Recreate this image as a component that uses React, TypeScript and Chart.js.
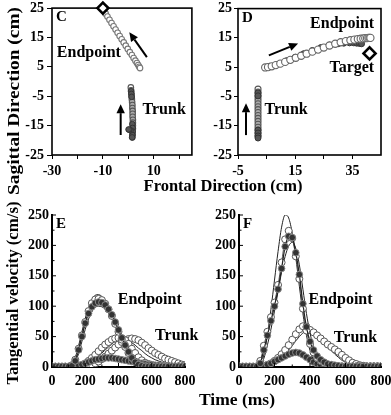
import React, { useEffect, useRef } from 'react';
import { Chart, registerables } from 'chart.js';
Chart.register(...registerables);

const FONT = 'Liberation Serif';

// ---------- Panel C (positions, cm) ----------
const cTicksX = [-30, -10, 10];
const cMinorX = [-20, 0, 20];
const posTicksY = [-25, -15, -5, 5, 15, 25];
const cTargetX = [-10];
const cTargetY = [25];
const cEndX = [-10, -9.5, -8.9, -8.2, -7.4, -6.6, -5.8, -5.0, -4.2, -3.4, -2.6, -1.8, -1.0, -0.2, 0.6, 1.4, 2.1, 2.8, 3.4, 3.9, 4.3, 4.6];
const cEndY = [25, 24.1, 23.1, 22.1, 21.0, 19.9, 18.8, 17.7, 16.6, 15.5, 14.4, 13.3, 12.2, 11.1, 10.0, 9.0, 8.0, 7.1, 6.3, 5.6, 5.0, 4.6];
const cTrunkOpenX = [1.0, 1.1, 1.2, 1.3, 1.4, 1.5, 1.6, 1.6, 1.7, 1.7, 1.7, 1.8, 1.8, 1.8, 1.8, 1.7, 1.7, 1.6];
const cTrunkOpenY = [-2, -3, -4, -5, -6, -7, -8, -9, -10, -11, -12, -13, -14, -15, -16, -17, -18, -19];
const cTrunkDarkX = [1.1, 1.2, 1.3, 1.6, 1.7, 1.7, 1.6, 1.5, 0.9, 0.4, 0.1];
const cTrunkDarkY = [-3.3, -4.2, -5.2, -14.5, -15.8, -17, -18.2, -19, -16.6, -16.4, -16.3];
const cArrows = [
  [7.3, 8.3, 0.4, 16.8],
  [-3, -18.2, -3, -7.7],
];

// ---------- Panel D (positions, cm) ----------
const dTicksX = [-5, 15, 35];
const dMinorX = [5, 25];
const dTargetX = [41];
const dTargetY = [9.7];
const dEndX = [4.5, 5.5, 6.8, 8.2, 9.8, 11.5, 13.3, 15.2, 17.1, 19.0, 21.0, 23.0, 25.0, 27.0, 29.0, 30.9, 32.7, 34.3, 35.7, 36.9, 37.9, 38.8, 39.5, 40.1, 40.6, 41.0, 41.3];
const dEndY = [4.9, 5.0, 5.3, 5.7, 6.2, 6.8, 7.5, 8.2, 8.9, 9.6, 10.3, 11.0, 11.7, 12.4, 13.0, 13.5, 13.9, 14.2, 14.4, 14.6, 14.7, 14.8, 14.9, 14.9, 15.0, 15.0, 15.0];
const dDarkX = [6, 9, 12, 15, 18, 21, 24, 27, 30, 32, 34, 35.5, 36.5, 37.5, 38.2];
const dDarkY = [5.3, 6.0, 7.2, 8.4, 9.6, 10.7, 11.7, 12.5, 13.0, 13.2, 13.3, 13.3, 13.2, 13.1, 13.0];
const dTrunkOpenX = [2.0, 2.0, 2.0, 2.0, 2.0, 2.0, 2.0, 2.0, 2.0, 2.0, 2.0, 2.0, 2.0, 2.0, 2.0, 2.0, 2.0];
const dTrunkOpenY = [-2.5, -3.5, -4.5, -5.5, -6.5, -7.5, -8.5, -9.5, -10.5, -11.5, -12.5, -13.5, -14.5, -15.5, -16.5, -17.5, -18.5];
const dTrunkDarkX = [2.0, 2.0, 2.0, 2.0, 2.0, 2.0];
const dTrunkDarkY = [-3.8, -4.8, -16.5, -17.5, -18.5, -19.2];
const dArrows = [
  [-2.2, -18.2, -2.2, -7.3],
  [5.8, 9.0, 16.0, 13.1],
];

// ---------- Panels E/F (velocity, cm/s vs time, ms) ----------
const velT = [0, 20, 40, 60, 80, 100, 120, 140, 160, 180, 200, 220, 240, 260, 280, 300, 320, 340, 360, 380, 400, 420, 440, 460, 480, 500, 520, 540, 560, 580, 600, 620, 640, 660, 680, 700, 720, 740, 760, 780, 800];
const timeTicks = [0, 200, 400, 600, 800];
const timeMinor = [100, 300, 500, 700];
const velTicks = [0, 50, 100, 150, 200, 250];
const velMinor = [25, 75, 125, 175, 225];

const eEndFilled = [1, 1, 1, 1, 1, 1, 2, 10, 28, 50, 72, 88, 99, 105, 107, 106, 102, 95, 86, 74, 61, 48, 36, 25, 15, 8, 4, 2, 1, 1, 1, 1, 1, 1, 1, 1, 1, 1, 1, 1, 1];
const eEndOpen = [0, 0, 0, 0, 0, 0, 3, 12, 30, 52, 74, 92, 105, 111, 112, 110, 104, 95, 84, 71, 58, 45, 33, 23, 15, 9, 5, 3, 2, 1, 1, 0, 0, 0, 0, 0, 0, 0, 0, 0, 0];
const eEndThinHi = [0, 0, 0, 0, 0, 1, 5, 16, 35, 58, 80, 98, 111, 118, 119, 116, 109, 99, 87, 73, 59, 46, 34, 24, 16, 10, 6, 3, 2, 1, 0, 0, 0, 0, 0, 0, 0, 0, 0, 0, 0];
const eEndThinLo = [0, 0, 0, 0, 0, 0, 2, 8, 22, 42, 62, 79, 91, 98, 100, 99, 95, 88, 79, 68, 56, 44, 33, 23, 15, 9, 5, 3, 1, 0, 0, 0, 0, 0, 0, 0, 0, 0, 0, 0, 0];
const eTrunkOpenL = [0, 0, 0, 0, 0, 0, 0, 0, 1, 3, 6, 10, 15, 20, 26, 32, 37, 41, 45, 47, 48, 47, 44, 38, 30, 23, 16, 11, 7, 5, 3, 2, 2, 1, 1, 1, 1, 1, 1, 1, 1];
const eTrunkOpenR = [0, 0, 0, 0, 0, 0, 0, 0, 0, 0, 1, 2, 4, 6, 9, 13, 17, 22, 27, 32, 37, 41, 44, 46, 47, 46, 44, 40, 36, 31, 27, 23, 20, 17, 14, 12, 10, 8, 6, 4, 3];
const eTrunkThin = [0, 0, 0, 0, 0, 0, 0, 0, 1, 2, 4, 7, 10, 14, 18, 23, 28, 33, 38, 42, 44, 45, 45, 43, 40, 36, 31, 27, 22, 18, 15, 12, 10, 8, 6, 5, 4, 3, 2, 2, 1];
const eTrunkFilled = [1, 1, 1, 1, 1, 1, 1, 2, 3, 4, 6, 8, 10, 12, 13, 14, 15, 15, 15, 14, 13, 12, 11, 10, 9, 8, 7, 6, 5, 4, 4, 3, 3, 2, 2, 2, 1, 1, 1, 1, 1];

const fEndOpen = [0, 0, 0, 0, 0, 1, 10, 35, 58, 82, 106, 135, 172, 210, 224, 212, 182, 145, 96, 60, 38, 24, 15, 10, 6, 4, 3, 2, 1, 1, 1, 1, 1, 1, 1, 1, 1, 1, 1, 1, 1];
const fEndFilled = [1, 1, 1, 1, 1, 1, 6, 28, 52, 76, 100, 128, 162, 198, 215, 213, 188, 152, 104, 66, 42, 28, 18, 12, 8, 5, 4, 3, 2, 1, 1, 1, 1, 1, 1, 1, 1, 1, 1, 1, 1];
const fEndThinHi = [0, 0, 0, 0, 0, 0, 4, 20, 52, 95, 143, 190, 230, 250, 245, 220, 180, 133, 88, 52, 27, 12, 5, 2, 1, 0, 0, 0, 0, 0, 0, 0, 0, 0, 0, 0, 0, 0, 0, 0, 0];
const fEndThinLo = [0, 0, 0, 0, 0, 0, 3, 14, 36, 62, 92, 124, 156, 182, 199, 205, 195, 168, 128, 88, 56, 33, 18, 9, 4, 2, 1, 0, 0, 0, 0, 0, 0, 0, 0, 0, 0, 0, 0, 0, 0];
const fTrunkOpen = [0, 0, 0, 0, 0, 0, 0, 1, 3, 6, 10, 15, 21, 28, 36, 45, 54, 62, 67, 66, 61, 57, 52, 47, 42, 37, 33, 29, 25, 20, 15, 11, 7, 5, 3, 2, 1, 1, 1, 1, 1];
const fTrunkThin = [0, 0, 0, 0, 0, 0, 0, 0, 1, 3, 6, 10, 15, 21, 28, 35, 43, 50, 56, 59, 60, 58, 54, 48, 41, 34, 27, 21, 16, 11, 8, 5, 3, 2, 1, 0, 0, 0, 0, 0, 0];
const fTrunkFilled = [1, 1, 1, 1, 1, 1, 1, 2, 4, 6, 9, 12, 15, 18, 21, 23, 24, 23, 20, 16, 12, 8, 5, 3, 2, 1, 1, 1, 1, 1, 1, 1, 1, 1, 1, 1, 1, 1, 1, 1, 1];

// ---------- helpers ----------
const pts = (xs: number[], ys: number[]) => xs.map((x, i) => ({ x, y: ys[i] }));
const tickFont = { family: FONT, size: 14, weight: 'bold' as const };

function makeScale(
  min: number, max: number, major: number[], minor: number[],
  fitKey: 'width' | 'height', fitSize: number, tickLen: number, pad: number, border: boolean
) {
  return {
    type: 'linear',
    min, max,
    afterBuildTicks: (s: any) => {
      s.ticks = [...major, ...minor].sort((a, b) => a - b).map((v) => ({ value: v }));
    },
    afterFit: (s: any) => {
      s[fitKey] = fitSize;
      s.paddingLeft = 0; s.paddingRight = 0; s.paddingTop = 0; s.paddingBottom = 0;
    },
    ticks: {
      font: tickFont, color: '#000', padding: pad, autoSkip: false, maxRotation: 0, minRotation: 0,
      callback: (v: any) => (major.includes(Number(v)) ? String(v) : ''),
    },
    grid: { display: true, drawOnChartArea: false, drawTicks: tickLen > 0, tickLength: tickLen, color: '#000', lineWidth: 1 },
    border: { display: border, color: '#000', width: 2 },
  };
}

type Label = { text: string; x: number; y: number };

function decorPlugin(o: {
  letter: string; labels: Label[]; arrows: number[][]; box: boolean;
  inward?: { xMajor: number[]; xMinor: number[]; yMajor: number[]; yMinor: number[] };
}) {
  return {
    id: 'decor',
    beforeDatasetsDraw(chart: any) {
      if (!o.box) return;
      const { ctx, chartArea: a } = chart;
      ctx.save();
      ctx.lineWidth = 1.6;
      ctx.strokeStyle = '#000';
      ctx.strokeRect(a.left, a.top, a.right - a.left, a.bottom - a.top);
      ctx.restore();
    },
    afterDraw(chart: any) {
      const { ctx, chartArea: a } = chart;
      const xs = chart.scales.x, ys = chart.scales.y;
      ctx.save();
      ctx.strokeStyle = '#000';
      ctx.fillStyle = '#000';
      if (o.inward) {
        ctx.lineWidth = 1;
        ctx.beginPath();
        const tick = (vals: number[], len: number, horiz: boolean) => {
          for (const v of vals) {
            if (horiz) {
              const px = xs.getPixelForValue(v);
              ctx.moveTo(px, a.bottom); ctx.lineTo(px, a.bottom - len);
            } else {
              const py = ys.getPixelForValue(v);
              ctx.moveTo(a.left, py); ctx.lineTo(a.left + len, py);
            }
          }
        };
        tick(o.inward.xMajor, 4, true);
        tick(o.inward.xMinor, 2.5, true);
        tick(o.inward.yMajor, 4, false);
        tick(o.inward.yMinor, 2.5, false);
        ctx.stroke();
      }
      for (const [x1, y1, x2, y2] of o.arrows) {
        const X1 = xs.getPixelForValue(x1), Y1 = ys.getPixelForValue(y1);
        const X2 = xs.getPixelForValue(x2), Y2 = ys.getPixelForValue(y2);
        const ang = Math.atan2(Y2 - Y1, X2 - X1);
        const head = 9, half = 4.2;
        const bx = X2 - head * Math.cos(ang), by = Y2 - head * Math.sin(ang);
        ctx.lineWidth = 2;
        ctx.beginPath(); ctx.moveTo(X1, Y1); ctx.lineTo(bx, by); ctx.stroke();
        ctx.beginPath();
        ctx.moveTo(X2, Y2);
        ctx.lineTo(bx + half * Math.sin(ang), by - half * Math.cos(ang));
        ctx.lineTo(bx - half * Math.sin(ang), by + half * Math.cos(ang));
        ctx.closePath(); ctx.fill();
      }
      ctx.font = `bold 16px "${FONT}"`;
      ctx.textAlign = 'center';
      ctx.textBaseline = 'middle';
      for (const l of o.labels) ctx.fillText(l.text, xs.getPixelForValue(l.x), ys.getPixelForValue(l.y));
      ctx.font = `bold 15px "${FONT}"`;
      ctx.textAlign = 'left';
      ctx.textBaseline = 'top';
      ctx.fillText(o.letter, a.left + 4, a.top + 2);
      ctx.restore();
    },
  };
}

const baseOpts = {
  responsive: false,
  maintainAspectRatio: false,
  animation: false,
  devicePixelRatio: 1,
  events: [] as any[],
  plugins: { legend: { display: false }, tooltip: { enabled: false } },
};

const diamond = (xs: number[], ys: number[], r: number) => ({
  data: pts(xs, ys), pointStyle: 'rectRot', pointRadius: r, pointBackgroundColor: '#fff',
  pointBorderColor: '#000', pointBorderWidth: 2.6, clip: false, showLine: false,
});
const openPts = (xs: number[], ys: number[], r: number, border = '#666', bg: any = '#fff') => ({
  data: pts(xs, ys), pointRadius: r, pointBackgroundColor: bg, pointBorderColor: border,
  pointBorderWidth: 1.1, showLine: false, clip: false,
});
const darkPts = (xs: number[], ys: number[], r: number) => ({
  data: pts(xs, ys), pointRadius: r, pointBackgroundColor: '#555', pointBorderColor: '#333',
  pointBorderWidth: 1, showLine: false, clip: false,
});

function configC() {
  return {
    type: 'scatter',
    data: {
      datasets: [
        diamond(cTargetX, cTargetY, 5.5),
        darkPts(cTrunkDarkX, cTrunkDarkY, 2.8),
        openPts(cTrunkOpenX, cTrunkOpenY, 2.8, '#555', (c: any) => (c.dataIndex === 0 ? '#fff' : '#aaa')),
        openPts(cEndX, cEndY, 2.8, '#777'),
      ],
    },
    options: {
      ...baseOpts,
      layout: { padding: { left: 0, top: 8, right: 4, bottom: 0 } },
      scales: {
        x: makeScale(-30, 25, cTicksX, cMinorX, 'height', 25, 4, 4, false),
        y: makeScale(-25, 25, posTicksY, [], 'width', 52, 5, 3, false),
      },
    },
    plugins: [
      decorPlugin({
        letter: 'C', box: true, arrows: cArrows,
        labels: [
          { text: 'Endpoint', x: -15.5, y: 9.7 },
          { text: 'Trunk', x: 14.1, y: -9.7 },
        ],
      }),
    ],
  };
}

function configD() {
  return {
    type: 'scatter',
    data: {
      datasets: [
        diamond(dTargetX, dTargetY, 6),
        darkPts(dTrunkDarkX, dTrunkDarkY, 3),
        openPts(dTrunkOpenX, dTrunkOpenY, 3, '#555', (c: any) => (c.dataIndex === 0 ? '#fff' : '#aaa')),
        openPts(dEndX, dEndY, 3.6, '#666'),
        darkPts(dDarkX, dDarkY, 3),
      ],
    },
    options: {
      ...baseOpts,
      layout: { padding: { left: 0, top: 8, right: 10, bottom: 0 } },
      scales: {
        x: makeScale(-5, 45, dTicksX, dMinorX, 'height', 25, 4, 4, false),
        y: makeScale(-25, 25, posTicksY, [], 'width', 38, 4, 2, false),
      },
    },
    plugins: [
      decorPlugin({
        letter: 'D', box: true, arrows: dArrows,
        labels: [
          { text: 'Endpoint', x: 31.4, y: 19.9 },
          { text: 'Target', x: 34.8, y: 4.9 },
          { text: 'Trunk', x: 11.8, y: -9.7 },
        ],
      }),
    ],
  };
}

const thinLine = (vals: number[]) => ({
  data: pts(velT, vals), borderColor: '#222', borderWidth: 1, pointRadius: 0, cubicInterpolationMode: 'monotone',
});
const openLine = (vals: number[]) => ({
  data: pts(velT, vals), borderColor: '#555', borderWidth: 1, pointRadius: 3.5,
  pointBackgroundColor: '#fff', pointBorderColor: '#555', pointBorderWidth: 1, cubicInterpolationMode: 'monotone',
});
const filledLine = (vals: number[]) => ({
  data: pts(velT, vals), borderColor: '#222', borderWidth: 1.2, pointRadius: 3.3,
  pointBackgroundColor: '#333', pointBorderColor: '#888', pointBorderWidth: 1, cubicInterpolationMode: 'monotone',
});

function velConfig(letter: string, sets: any[], yWidth: number, padRight: number, labels: Label[]) {
  return {
    type: 'line',
    data: { datasets: sets },
    options: {
      ...baseOpts,
      layout: { padding: { left: 0, top: 15, right: padRight, bottom: 0 } },
      scales: {
        x: makeScale(0, 800, timeTicks, timeMinor, 'height', 22, 0, 6, true),
        y: makeScale(0, 250, velTicks, velMinor, 'width', yWidth, 0, 3, true),
      },
    },
    plugins: [
      decorPlugin({
        letter, box: false, arrows: [], labels,
        inward: { xMajor: timeTicks, xMinor: timeMinor, yMajor: velTicks, yMinor: velMinor },
      }),
    ],
  };
}

function configE() {
  return velConfig('E', [
    filledLine(eEndFilled), openLine(eEndOpen), thinLine(eEndThinHi), thinLine(eEndThinLo),
    filledLine(eTrunkFilled), openLine(eTrunkOpenL), openLine(eTrunkOpenR), thinLine(eTrunkThin),
  ], 52, 20, [
    { text: 'Endpoint', x: 588, y: 110 },
    { text: 'Trunk', x: 750, y: 51 },
  ]);
}

function configF() {
  return velConfig('F', [
    filledLine(fEndFilled), openLine(fEndOpen), thinLine(fEndThinHi), thinLine(fEndThinLo),
    filledLine(fTrunkFilled), openLine(fTrunkOpen), thinLine(fTrunkThin),
  ], 39, 10, [
    { text: 'Endpoint', x: 572, y: 110 },
    { text: 'Trunk', x: 656, y: 48 },
  ]);
}

function Panel({ make, left, top, width, height }: { make: () => any; left: number; top: number; width: number; height: number }) {
  const ref = useRef<HTMLCanvasElement>(null);
  useEffect(() => {
    const chart = new Chart(ref.current as HTMLCanvasElement, make());
    return () => chart.destroy();
  }, []);
  return (
    <canvas
      ref={ref}
      width={width}
      height={height}
      style={{ position: 'absolute', left, top, width, height }}
    />
  );
}

const titleStyle: React.CSSProperties = {
  position: 'absolute',
  fontFamily: FONT,
  fontWeight: 'bold',
  whiteSpace: 'nowrap',
  lineHeight: 1,
  color: '#000',
};

export default function App() {
  return (
    <div style={{ position: 'fixed', left: 0, top: 0, width: 391, height: 415, background: '#fff', overflow: 'hidden' }}>
      <Panel make={configC} left={0} top={0} width={200} height={180} />
      <Panel make={configD} left={200} top={0} width={191} height={180} />
      <Panel make={configE} left={0} top={200} width={205} height={189} />
      <Panel make={configF} left={200} top={200} width={191} height={189} />
      <div style={{ ...titleStyle, fontSize: 17, left: 12.5, top: 101, transform: 'translate(-50%,-50%) rotate(-90deg) scaleX(1.14)' }}>
        Sagittal Direction (cm)
      </div>
      <div style={{ ...titleStyle, fontSize: 16, left: 12.5, top: 293, transform: 'translate(-50%,-50%) rotate(-90deg) scaleX(1.05)' }}>
        Tangential velocity (cm/s)
      </div>
      <div style={{ ...titleStyle, fontSize: 16.5, left: 223, top: 186, transform: 'translate(-50%,-50%)' }}>
        Frontal Direction (cm)
      </div>
      <div style={{ ...titleStyle, fontSize: 17.5, left: 237, top: 400, transform: 'translate(-50%,-50%)' }}>
        Time (ms)
      </div>
    </div>
  );
}
